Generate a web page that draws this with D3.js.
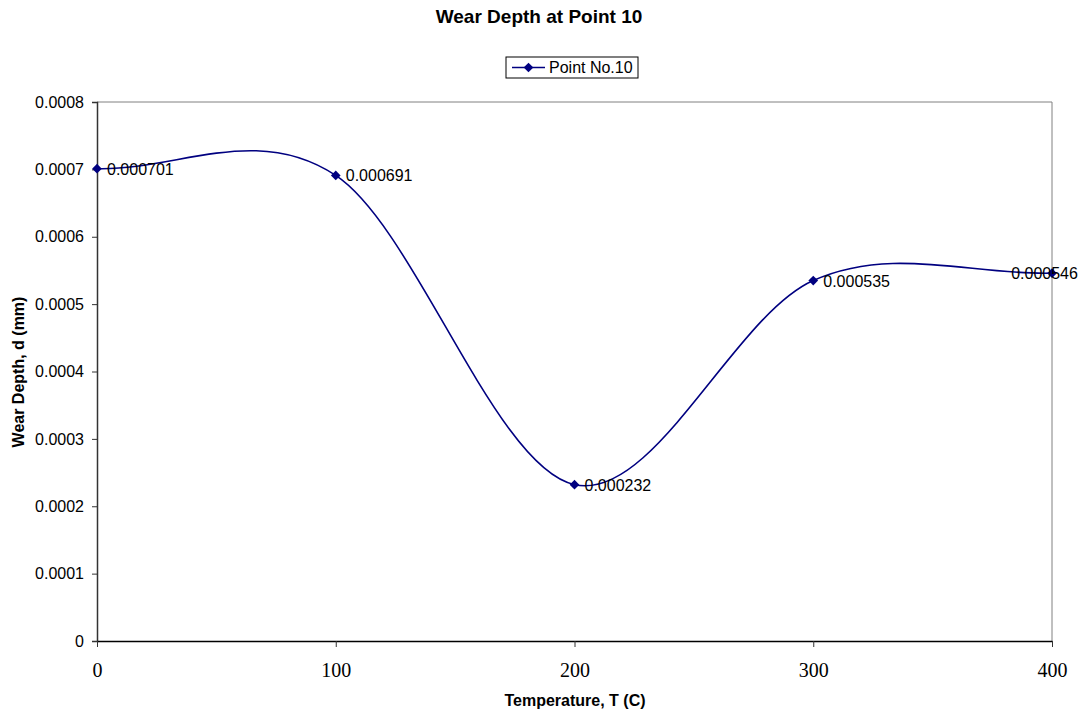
<!DOCTYPE html>
<html>
<head>
<meta charset="utf-8">
<script src="https://cdn.jsdelivr.net/npm/d3@7"></script>
<style>
  body { margin: 0; background: #fff; }
  svg { display: block; }
</style>
</head>
<body>
<svg id="chart" width="1081" height="715"></svg>
<script>
// Wear depth measured at point 10 for each test temperature
const temperatures = [0, 100, 200, 300, 400];
const wearDepth = [0.000701, 0.000691, 0.000232, 0.000535, 0.000546];
const xTicks = [0, 100, 200, 300, 400];
const yTicks = [0, 0.0001, 0.0002, 0.0003, 0.0004, 0.0005, 0.0006, 0.0007, 0.0008];
const seriesName = "Point No.10";

const W = 1081;
const svg = d3.select("#chart");
const margin = { left: 97, right: 1052, top: 102, bottom: 641 };
const lineColor = "#000080";
const sans = "Arial, 'Liberation Sans', sans-serif";

const x = d3.scaleLinear().domain([0, 400]).range([margin.left, margin.right]);
const y = d3.scaleLinear().domain([0, 0.0008]).range([margin.bottom, margin.top]);

// Plot frame: grey top/right edges
svg.append("path")
  .attr("d", `M${margin.left},${margin.top}H${margin.right}V${margin.bottom}`)
  .attr("fill", "none").attr("stroke", "#808080").attr("stroke-width", 1);

// Y axis
const yAxis = svg.append("g")
  .attr("transform", `translate(${margin.left},0)`)
  .call(d3.axisLeft(y).tickValues(yTicks).tickSize(5).tickPadding(8)
    .tickFormat(d => d === 0 ? "0" : d3.format(".4f")(d)));
yAxis.select(".domain").attr("stroke", "#333").attr("stroke-width", 1.5);
yAxis.selectAll(".tick line").attr("stroke", "#333");
yAxis.selectAll("text").attr("font-family", sans).attr("font-size", 16).attr("fill", "#000");

// X axis
const xAxis = svg.append("g")
  .attr("transform", `translate(0,${margin.bottom})`)
  .call(d3.axisBottom(x).tickValues(xTicks).tickSize(6).tickPadding(16).tickSizeOuter(0));
xAxis.select(".domain").attr("stroke", "#000").attr("stroke-width", 1.5);
xAxis.selectAll(".tick line").attr("stroke", "#333");
xAxis.selectAll("text").attr("font-family", "'Times New Roman', 'Liberation Serif', serif")
  .attr("font-size", 20).attr("fill", "#000");

// Smoothed series: cubic Bezier segments, tangents from neighbouring points,
// with reflected phantom points at both ends
const pts = temperatures.map((t, i) => [x(t), y(wearDepth[i])]);
const n = pts.length;
const ext = [
  [2 * pts[0][0] - pts[1][0], 2 * pts[0][1] - pts[1][1]],
  ...pts,
  [2 * pts[n - 1][0] - pts[n - 2][0], 2 * pts[n - 1][1] - pts[n - 2][1]]
];
const smooth = d3.path();
smooth.moveTo(pts[0][0], pts[0][1]);
for (let i = 1; i < ext.length - 2; i++) {
  const p0 = ext[i - 1], p1 = ext[i], p2 = ext[i + 1], p3 = ext[i + 2];
  smooth.bezierCurveTo(
    p1[0] + (p2[0] - p0[0]) / 6, p1[1] + (p2[1] - p0[1]) / 6,
    p2[0] - (p3[0] - p1[0]) / 6, p2[1] - (p3[1] - p1[1]) / 6,
    p2[0], p2[1]);
}
svg.append("path").attr("d", smooth.toString())
  .attr("fill", "none").attr("stroke", lineColor).attr("stroke-width", 1.6);

// Diamond markers
const diamond = d3.symbol().type(d3.symbolDiamond2).size(60);
svg.selectAll(".marker").data(pts).enter().append("path")
  .attr("class", "marker")
  .attr("transform", d => `translate(${d[0]},${d[1]})`)
  .attr("d", diamond).attr("fill", lineColor);

// Value labels (kept inside the canvas)
const labels = svg.selectAll(".vlabel").data(temperatures).enter().append("text")
  .attr("class", "vlabel")
  .attr("x", d => x(d) + 10)
  .attr("y", (d, i) => y(wearDepth[i]) + 6)
  .attr("font-family", sans).attr("font-size", 16).attr("fill", "#000")
  .text((d, i) => d3.format(".6f")(wearDepth[i]));
labels.each(function () {
  const bb = this.getBBox();
  if (bb.x + bb.width > W - 3) d3.select(this).attr("x", W - 3 - bb.width);
});

// Title
svg.append("text").attr("x", 539).attr("y", 23).attr("text-anchor", "middle")
  .attr("font-family", sans).attr("font-size", 19).attr("font-weight", "bold")
  .text("Wear Depth at Point 10");

// Axis titles
svg.append("text").attr("x", 575).attr("y", 706).attr("text-anchor", "middle")
  .attr("font-family", sans).attr("font-size", 16).attr("font-weight", "bold")
  .text("Temperature, T (C)");
svg.append("text").attr("transform", "translate(24,372) rotate(-90)").attr("text-anchor", "middle")
  .attr("font-family", sans).attr("font-size", 16).attr("font-weight", "bold")
  .text("Wear Depth, d (mm)");

// Legend
const lg = svg.append("g").attr("transform", "translate(506,57)");
lg.append("rect").attr("x", 0).attr("y", 0).attr("width", 132).attr("height", 21)
  .attr("fill", "#fff").attr("stroke", "#000").attr("stroke-width", 1);
lg.append("line").attr("x1", 6).attr("x2", 39).attr("y1", 10.5).attr("y2", 10.5)
  .attr("stroke", lineColor).attr("stroke-width", 1.6);
lg.append("path").attr("transform", "translate(22.5,10.5)").attr("d", diamond).attr("fill", lineColor);
lg.append("text").attr("x", 43).attr("y", 16)
  .attr("font-family", sans).attr("font-size", 16).attr("fill", "#000").text(seriesName);
</script>
</body>
</html>
